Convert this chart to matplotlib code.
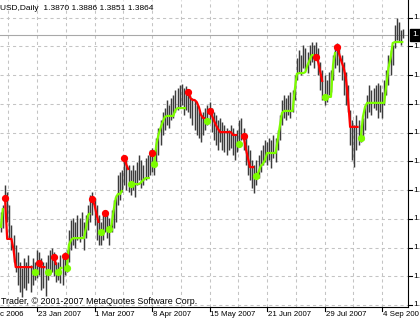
import matplotlib
matplotlib.use("Agg")
import matplotlib.pyplot as plt
import matplotlib.transforms as mtransforms

# ---------------- data ----------------
highs = [1.3186, 1.3213, 1.3289, 1.3263, 1.3213, 1.3136, 1.3098, 1.3060, 1.3033, 1.2995,
         1.2972, 1.3010, 1.2995, 1.3021, 1.2983, 1.3010, 1.2995, 1.3041, 1.3033, 1.3010,
         1.2995, 1.2995, 1.3021, 1.3041, 1.3048, 1.3033, 1.2995, 1.2995, 1.3021, 1.3010,
         1.3033, 1.3041, 1.3117, 1.3155, 1.3163, 1.3148, 1.3175, 1.3163, 1.3186, 1.3148,
         1.3175, 1.3213, 1.3251, 1.3263, 1.3240, 1.3213, 1.3175, 1.3148, 1.3175, 1.3194,
         1.3186, 1.3163, 1.3194, 1.3232, 1.3251, 1.3328, 1.3339, 1.3347, 1.3393, 1.3385,
         1.3366, 1.3347, 1.3366, 1.3347, 1.3378, 1.3404, 1.3385, 1.3366, 1.3393, 1.3404,
         1.3424, 1.3431, 1.3424, 1.3469, 1.3508, 1.3538, 1.3569, 1.3584, 1.3615, 1.3596,
         1.3623, 1.3634, 1.3653, 1.3661, 1.3672, 1.3676, 1.3661, 1.3669, 1.3653, 1.3634,
         1.3623, 1.3615, 1.3596, 1.3577, 1.3558, 1.3569, 1.3584, 1.3596, 1.3607, 1.3584,
         1.3569, 1.3558, 1.3538, 1.3546, 1.3531, 1.3519, 1.3508, 1.3500, 1.3519, 1.3508,
         1.3481, 1.3500, 1.3538, 1.3546, 1.3508, 1.3481, 1.3443, 1.3424, 1.3385, 1.3366,
         1.3385, 1.3404, 1.3424, 1.3443, 1.3462, 1.3454, 1.3469, 1.3462, 1.3481, 1.3469,
         1.3500, 1.3558, 1.3615, 1.3634, 1.3623, 1.3634, 1.3646, 1.3653, 1.3711, 1.3776,
         1.3807, 1.3787, 1.3826, 1.3814, 1.3799, 1.3826, 1.3837, 1.3826, 1.3837, 1.3814,
         1.3761, 1.3730, 1.3711, 1.3692, 1.3722, 1.3730, 1.3787, 1.3826, 1.3833, 1.3814,
         1.3787, 1.3761, 1.3722, 1.3672, 1.3577, 1.3538, 1.3519, 1.3558, 1.3538, 1.3519,
         1.3546, 1.3596, 1.3634, 1.3672, 1.3653, 1.3661, 1.3672, 1.3680, 1.3672, 1.3646,
         1.3692, 1.3730, 1.3787, 1.3807, 1.3826, 1.3902, 1.3929, 1.3914, 1.3883, 1.3886]

lows = [1.3109, 1.3125, 1.3201, 1.3148, 1.3086, 1.3041, 1.2995, 1.2956, 1.2906, 1.2880,
        1.2861, 1.2895, 1.2887, 1.2914, 1.2880, 1.2906, 1.2926, 1.2933, 1.2945, 1.2887,
        1.2895, 1.2864, 1.2926, 1.2945, 1.2956, 1.2941, 1.2918, 1.2926, 1.2914, 1.2906,
        1.2945, 1.2956, 1.2995, 1.3041, 1.3060, 1.3048, 1.3079, 1.3071, 1.3094, 1.3041,
        1.3086, 1.3117, 1.3148, 1.3175, 1.3136, 1.3079, 1.3060, 1.3060, 1.3079, 1.3109,
        1.3086, 1.3060, 1.3109, 1.3125, 1.3148, 1.3213, 1.3232, 1.3263, 1.3289, 1.3270,
        1.3263, 1.3251, 1.3270, 1.3243, 1.3289, 1.3309, 1.3278, 1.3289, 1.3309, 1.3316,
        1.3328, 1.3339, 1.3328, 1.3366, 1.3404, 1.3443, 1.3481, 1.3500, 1.3519, 1.3508,
        1.3538, 1.3546, 1.3569, 1.3577, 1.3584, 1.3596, 1.3558, 1.3577, 1.3569, 1.3546,
        1.3519, 1.3500, 1.3481, 1.3469, 1.3454, 1.3481, 1.3500, 1.3519, 1.3538, 1.3492,
        1.3462, 1.3443, 1.3424, 1.3454, 1.3424, 1.3416, 1.3404, 1.3424, 1.3431, 1.3404,
        1.3385, 1.3416, 1.3443, 1.3462, 1.3424, 1.3366, 1.3328, 1.3309, 1.3278, 1.3259,
        1.3289, 1.3316, 1.3339, 1.3366, 1.3378, 1.3366, 1.3385, 1.3355, 1.3393, 1.3378,
        1.3424, 1.3462, 1.3519, 1.3546, 1.3538, 1.3558, 1.3546, 1.3569, 1.3615, 1.3692,
        1.3722, 1.3711, 1.3738, 1.3730, 1.3718, 1.3749, 1.3761, 1.3738, 1.3768, 1.3711,
        1.3653, 1.3615, 1.3596, 1.3607, 1.3634, 1.3646, 1.3692, 1.3738, 1.3749, 1.3722,
        1.3692, 1.3634, 1.3596, 1.3569, 1.3443, 1.3385, 1.3358, 1.3424, 1.3443, 1.3454,
        1.3462, 1.3500, 1.3546, 1.3569, 1.3558, 1.3584, 1.3577, 1.3546, 1.3569, 1.3546,
        1.3596, 1.3634, 1.3672, 1.3711, 1.3749, 1.3814, 1.3845, 1.3837, 1.3826, 1.3851]

stop = [1.3125, 1.3201, 1.3240, 1.3083, 1.3083, 1.3083, 1.3041, 1.2975, 1.2975, 1.2975,
        1.2975, 1.2975, 1.2975, 1.2975, 1.2975, 1.2975, 1.2956, 1.2956, 1.2991, 1.2975,
        1.2975, 1.2975, 1.2956, 1.2956, 1.2960, 1.3014, 1.2983, 1.2956, 1.2972, 1.2972,
        1.3018, 1.2972, 1.3060, 1.3079, 1.3086, 1.3086, 1.3086, 1.3086, 1.3086, 1.3086,
        1.3125, 1.3175, 1.3182, 1.3236, 1.3213, 1.3175, 1.3144, 1.3109, 1.3109, 1.3182,
        1.3175, 1.3121, 1.3136, 1.3194, 1.3240, 1.3255, 1.3255, 1.3270, 1.3393, 1.3366,
        1.3347, 1.3293, 1.3293, 1.3293, 1.3293, 1.3293, 1.3301, 1.3309, 1.3316, 1.3316,
        1.3316, 1.3412, 1.3370, 1.3443, 1.3481, 1.3508, 1.3531, 1.3550, 1.3554, 1.3554,
        1.3554, 1.3554, 1.3577, 1.3584, 1.3584, 1.3584, 1.3584, 1.3584, 1.3646, 1.3623,
        1.3615, 1.3615, 1.3607, 1.3588, 1.3558, 1.3546, 1.3546, 1.3535, 1.3573, 1.3558,
        1.3538, 1.3519, 1.3504, 1.3492, 1.3492, 1.3492, 1.3492, 1.3492, 1.3492, 1.3481,
        1.3481, 1.3481, 1.3446, 1.3454, 1.3477, 1.3431, 1.3393, 1.3358, 1.3358, 1.3358,
        1.3324, 1.3339, 1.3362, 1.3370, 1.3385, 1.3412, 1.3412, 1.3412, 1.3412, 1.3412,
        1.3462, 1.3515, 1.3565, 1.3573, 1.3573, 1.3573, 1.3573, 1.3573, 1.3653, 1.3715,
        1.3718, 1.3718, 1.3718, 1.3722, 1.3749, 1.3768, 1.3787, 1.3787, 1.3780, 1.3761,
        1.3722, 1.3684, 1.3627, 1.3627, 1.3627, 1.3627, 1.3749, 1.3799, 1.3818, 1.3787,
        1.3761, 1.3738, 1.3699, 1.3623, 1.3512, 1.3512, 1.3512, 1.3512, 1.3512, 1.3469,
        1.3550, 1.3588, 1.3604, 1.3604, 1.3604, 1.3604, 1.3604, 1.3604, 1.3604, 1.3604,
        1.3604, 1.3672, 1.3738, 1.3776, 1.3833, 1.3837, 1.3837, 1.3837, 1.3837, 1.3837]

trend = [1, 1, -1, -1, -1, -1, -1, -1, -1, -1,
         -1, -1, -1, -1, -1, -1, 1, 1, -1, -1,
         -1, -1, 1, 1, 1, -1, -1, 1, 1, 1,
         -1, 1, 1, 1, 1, 1, 1, 1, 1, 1,
         1, 1, 1, -1, -1, -1, -1, 1, 1, -1,
         -1, 1, 1, 1, 1, 1, 1, 1, -1, -1,
         -1, 1, 1, 1, 1, 1, 1, 1, 1, 1,
         1, -1, 1, 1, 1, 1, 1, 1, 1, 1,
         1, 1, 1, 1, 1, 1, 1, 1, -1, -1,
         -1, -1, -1, -1, -1, -1, -1, 1, -1, -1,
         -1, -1, -1, -1, -1, -1, -1, -1, -1, -1,
         -1, -1, 1, 1, -1, -1, -1, -1, -1, -1,
         1, 1, 1, 1, 1, 1, 1, 1, 1, 1,
         1, 1, 1, 1, 1, 1, 1, 1, 1, 1,
         1, 1, 1, 1, 1, 1, 1, 1, -1, -1,
         -1, -1, 1, 1, 1, 1, 1, 1, -1, -1,
         -1, -1, -1, -1, -1, -1, -1, -1, -1, 1,
         1, 1, 1, 1, 1, 1, 1, 1, 1, 1,
         1, 1, 1, 1, 1, 1, 1, 1, 1, 1]

# texts as they are visible in the (edge-clipped) reference
date_labels = ["c 2006", "23 Jan 2007", "1 Mar 2007", "8 Apr 2007",
               "15 May 2007", "21 Jun 2007", "29 Jul 2007", "4 Sep 200"]
date_bars = [-10, 17, 44, 71, 98, 125, 152, 179]
price_ticks = [1.3930, 1.3820, 1.3710, 1.3600, 1.3490, 1.3380,
               1.3270, 1.3160, 1.3050, 1.2940, 1.2830]
price_tick_label = "1."
last_price = 1.3864
title_text = "USD,Daily  1.3870 1.3886 1.3851 1.3864"
copyright_text = "Trader, \u00a9 2001-2007 MetaQuotes Software Corp."

# ---------------- figure ----------------
W, H = 420, 323
DPI = 100
fig = plt.figure(figsize=(W / DPI, H / DPI), dpi=DPI)
fig.patch.set_facecolor("white")

ax_right_px = 408
ax_bottom_px = 307
ax = fig.add_axes([0, (H - ax_bottom_px) / H, ax_right_px / W, ax_bottom_px / H])
ax.set_facecolor("white")

px_per_bar = 2.13
x0 = -0.37
ax.set_xlim(x0, x0 + ax_right_px / px_per_bar)
ax.set_ylim(1.3998 - 0.000383 * ax_bottom_px, 1.3998)

FONT = "Liberation Sans"
FS = 6.0
FS_DATE = 5.7
FS_COPY = 6.4

# grid
for p in price_ticks:
    ax.axhline(p, color="#c4c4c4", lw=0.75, ls=(0, (3, 3)), zorder=0)
for k in range(-1, 15):
    gx = date_bars[1] + k * 13.5
    ax.axvline(gx, color="#c4c4c4", lw=0.75, ls=(0, (3, 3)), zorder=0)

# price line
ax.axhline(last_price, color="#a8a8a8", lw=0.8, zorder=1)

# bars
xs = list(range(len(highs)))
ax.vlines(xs, lows, highs, color="#3c3c3c", lw=1.05, zorder=2)

# indicator
n = len(stop)
start = 0
for i in range(1, n + 1):
    if i == n or trend[i] != trend[start]:
        col = "#7CFC00" if trend[start] == 1 else "#FF0000"
        ax.plot(xs[start:i], stop[start:i], color=col, lw=1.6,
                solid_capstyle="butt", zorder=3)
        if start > 0:
            ax.plot([xs[start]], [stop[start]], "o", color=col, ms=4.2,
                    mec=col, zorder=4)
        start = i

# spines
for s in ("left", "top"):
    ax.spines[s].set_visible(False)
for s in ("right", "bottom"):
    ax.spines[s].set_color("black")
    ax.spines[s].set_linewidth(0.8)
ax.set_xticks([])
ax.set_yticks([])

# right-axis ticks and labels
ytrans = mtransforms.blended_transform_factory(ax.transAxes, ax.transData)
for p in price_ticks:
    ax.plot([1.0, 1.0 + 3.5 / ax_right_px], [p, p], color="black", lw=0.8,
            transform=ytrans, clip_on=False)
    ax.text(1.0 + 5 / ax_right_px, p, price_tick_label, transform=ytrans,
            ha="left", va="center", fontsize=FS, family=FONT, color="black",
            clip_on=False)

# current price box
ax.text(1.0 + 4 / ax_right_px, last_price, price_tick_label, transform=ytrans,
        ha="left", va="center", fontsize=FS, family=FONT, color="white",
        clip_on=False,
        bbox=dict(boxstyle="square,pad=0.3", fc="black", ec="black"))

# bottom date ticks and labels
xtrans = mtransforms.blended_transform_factory(ax.transData, ax.transAxes)
for b, lab in zip(date_bars, date_labels):
    ax.plot([b, b], [0, -4 / ax_bottom_px], color="black", lw=0.8,
            transform=xtrans, clip_on=False)
    if b < 0:
        ax.text(0.5 / ax_right_px, -8 / ax_bottom_px, lab, transform=ax.transAxes,
                ha="left", va="center", fontsize=FS_DATE, family=FONT,
                color="black", clip_on=False)
    else:
        ax.text(b + 0.45, -8 / ax_bottom_px, lab, transform=xtrans, ha="left",
                va="center", fontsize=FS_DATE, family=FONT, color="black",
                clip_on=False)

# title and copyright
fig.text(0.5 / W, 1 - 8.5 / H, title_text, ha="left", va="center",
         fontsize=FS, family=FONT, color="black")
fig.text(1.0 / W, 1 - 301 / H, copyright_text, ha="left", va="center",
         fontsize=FS_COPY, family=FONT, color="black")

fig.savefig("out.png", dpi=DPI, facecolor="white")
